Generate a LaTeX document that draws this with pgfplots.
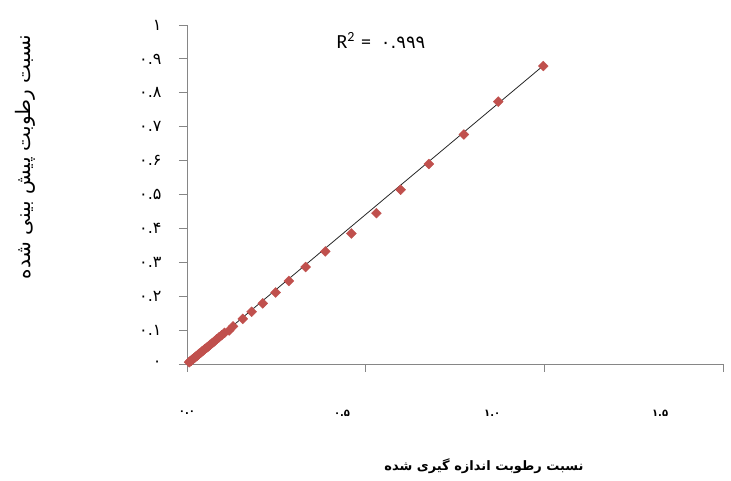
\documentclass[border=0pt]{standalone}
\usepackage{pgfplots}
\pgfplotsset{compat=1.18}
\usepackage{fontspec}
\setmainfont{Liberation Sans}
\newfontfamily\arabicfont[Script=Arabic]{DejaVu Sans}
\newfontfamily\rfont{Carlito}
\TeXXeTstate=1
\definecolor{mk}{HTML}{C0504D}
\definecolor{axc}{HTML}{868686}
\pgfplotstableread{
x y
0.997 0.879
0.871 0.774
0.775 0.677
0.677 0.590
0.598 0.514
0.530 0.445
0.460 0.385
0.387 0.332
0.332 0.286
0.285 0.245
0.248 0.211
0.212 0.179
0.181 0.154
0.156 0.133
0.129 0.111
0.118 0.099
0.105 0.092
0.097 0.085
0.090 0.079
0.083 0.073
0.077 0.067
0.071 0.062
0.065 0.057
0.060 0.052
0.055 0.048
0.050 0.044
0.046 0.040
0.042 0.037
0.038 0.033
0.034 0.030
0.031 0.027
0.028 0.024
0.025 0.022
0.022 0.019
0.019 0.017
0.016 0.014
0.014 0.012
0.012 0.010
0.010 0.009
0.008 0.007
0.006 0.005
}\datatable
\begin{document}
\begin{tikzpicture}
\begin{axis}[name=ax, at={(0,0)}, anchor=south west,
  scale only axis, width=536pt, height=339pt,
  xmin=0, xmax=1.5, ymin=0, ymax=1,
  axis x line*=bottom, axis y line*=left,
  axis line style={axc, line width=0.9pt},
  tick style={axc, line width=0.9pt},
  tick align=outside, major tick length=8pt,
  xtick={0,0.5,1,1.5}, xticklabels={},
  extra x ticks={0.0,0.434,0.854,1.324},
  extra x tick labels={۰.۰,۰.۵,۱.۰,۱.۵},
  extra x tick style={major tick length=0pt,
    xticklabel style={anchor=center, yshift=-49pt,
      font=\arabicfont\bfseries\fontsize{10}{10}\selectfont}},
  ytick={0,0.1,0.2,0.3,0.4,0.5,0.6,0.7,0.8,0.9,1},
  yticklabels={۰,۰.۱,۰.۲,۰.۳,۰.۴,۰.۵,۰.۶,۰.۷,۰.۸,۰.۹,۱},
  yticklabel style={anchor=east, xshift=-14pt,
    font=\arabicfont\fontsize{16}{16}\selectfont},
  xlabel={\beginR نسبت رطوبت اندازه گیری شده\endR},
  xlabel style={at={(rel axis cs:0.554,0)}, anchor=center, yshift=-102pt,
    font=\arabicfont\bfseries\fontsize{13}{13}\selectfont},
  ylabel={\beginR نسبت رطوبت پیش بینی شده\endR},
  ylabel style={at={(rel axis cs:0,0.611)}, anchor=center, yshift=162pt,
    font=\arabicfont\fontsize{20}{20}\selectfont},
  clip=false,
]
\addplot[black!85, line width=0.8pt] coordinates {(0.005,0.004) (0.997,0.880)};
\addplot[only marks, mark=square*, mark size=3.5pt,
  mark options={fill=mk, draw=mk, rotate=45}] table {\datatable};
\node[anchor=west, font=\rfont\fontsize{20}{20}\selectfont, inner sep=0pt]
  at (axis cs:0.418,0.955) {R\textsuperscript{2}\hspace{6pt}=\hspace{10pt}{\arabicfont\fontsize{18}{18}\selectfont ۰.۹۹۹}};
\end{axis}
\pgfresetboundingbox
\path[use as bounding box] (ax.south west) ++(-187pt,-117pt) rectangle ++(731pt,481pt);
\end{tikzpicture}
\end{document}
